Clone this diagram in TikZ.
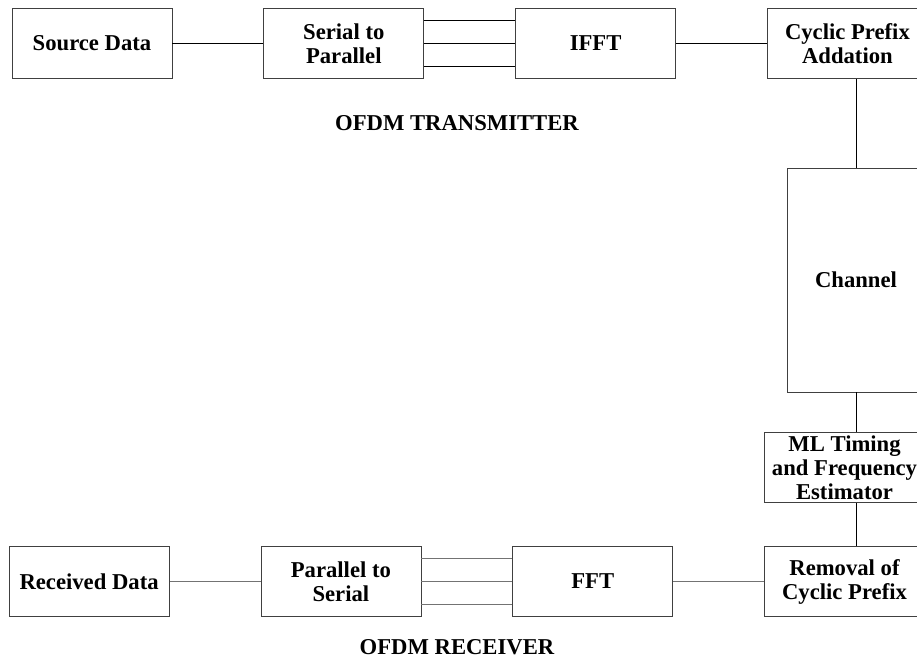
\documentclass[tikz,border=0pt]{standalone}
\usepackage{fontspec}
\setmainfont{Liberation Serif}
\usetikzlibrary{positioning}

\begin{document}
\begin{tikzpicture}[x=0.75pt, y=-0.75pt,
    ubox/.style={rectangle, draw=black!75, line width=0.6pt,
                 minimum width=120pt, minimum height=53pt, inner sep=0pt,
                 font=\fontsize{17}{18}\selectfont\bfseries, align=center},
    wire/.style={line width=0.6pt, black},
    rwire/.style={line width=0.6pt, black!55},
    title/.style={font=\fontsize{17}{18}\selectfont\bfseries},
    node distance=68.25pt
  ]
    \useasboundingbox (0,0) rectangle (917,660);

    % transmitter
    \node[ubox] (src) at (92,43.5) {Source Data};
    \node[ubox, right=of src] (s2p) {Serial to\\Parallel};
    \node[ubox, right=of s2p] (ifft) {IFFT};
    \node[ubox, right=of ifft] (cp) {Cyclic Prefix\\Addation};
    \node[title] (tx) at (457,123) {OFDM TRANSMITTER};

    % channel and estimator
    \node[ubox, minimum width=103.5pt, minimum height=168pt] (chan) at (856,280) {Channel};
    \node[ubox] (ml) at (844.5,467.5) {ML Timing\\and Frequency\\Estimator};

    % receiver
    \node[ubox] (rem) at (844.5,581.5) {Removal of\\Cyclic Prefix};
    \node[ubox, left=of rem] (fft) {FFT};
    \node[ubox, left=of fft] (p2s) {Parallel to\\Serial};
    \node[ubox, left=of p2s] (rcv) {Received Data};
    \node[title] (rx) at (457,647) {OFDM RECEIVER};

    \draw[wire] (src) -- (s2p);
    \draw[wire] ([yshift=17pt]s2p.east) -- ([yshift=17pt]ifft.west);
    \draw[wire] (s2p) -- (ifft);
    \draw[wire] ([yshift=-17pt]s2p.east) -- ([yshift=-17pt]ifft.west);
    \draw[wire] (ifft) -- (cp);
    \draw[wire] (chan.north |- cp.south) -- (chan.north);
    \draw[wire] (chan.south) -- (chan.south |- ml.north);
    \draw[wire] (chan.south |- ml.south) -- (chan.south |- rem.north);

    \draw[rwire] (rem) -- (fft);
    \draw[rwire] ([yshift=17pt]fft.west) -- ([yshift=17pt]p2s.east);
    \draw[rwire] (fft) -- (p2s);
    \draw[rwire] ([yshift=-17pt]fft.west) -- ([yshift=-17pt]p2s.east);
    \draw[rwire] (p2s) -- (rcv);
\end{tikzpicture}
\end{document}
